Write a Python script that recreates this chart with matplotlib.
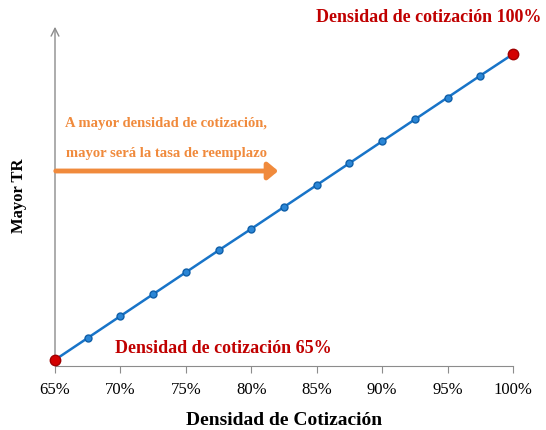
import matplotlib.pyplot as plt

# Datos
densidad = [65, 67.5, 70, 72.5, 75, 77.5, 80, 82.5, 85, 87.5, 90, 92.5, 95, 97.5, 100]
tr = [1.8, 8.2, 14.6, 21.0, 27.4, 33.8, 40.1, 46.5, 52.9, 59.3, 65.7, 72.1, 78.5, 84.9, 91.2]
ticks = [65, 70, 75, 80, 85, 90, 95, 100]
tick_labels = ["65%", "70%", "75%", "80%", "85%", "90%", "95%", "100%"]

plt.rcParams['font.family'] = ['Liberation Serif', 'DejaVu Serif']

rojo = "#C00000"
naranja = "#F08A3C"
azul = "#1874C8"
gris = "#8C8C8C"

fig = plt.figure(figsize=(5.46, 4.31), dpi=100)
ax = fig.add_axes([55/546, 64/431, 458/546, 342/431])

ax.plot(densidad, tr, color=azul, lw=1.8, marker="o", ms=5,
        mfc="#2A86D6", mec="#0F5FA8", zorder=3, clip_on=False)
ax.plot([densidad[0], densidad[-1]], [tr[0], tr[-1]], ls="none", marker="o",
        ms=7.5, mfc="#D40000", mec="#A00000", zorder=4, clip_on=False)

ax.set_xlim(65, 100)
ax.set_ylim(0, 100)
ax.set_xticks(ticks)
ax.set_xticklabels(tick_labels, fontsize=12)
ax.set_yticks([])
ax.tick_params(axis="x", direction="out", length=5, color=gris, pad=6)

for s in ["top", "right", "left"]:
    ax.spines[s].set_visible(False)
ax.spines["bottom"].set_color(gris)

# eje y con flecha
ax.annotate("", xy=(0, 1), xytext=(0, 0), xycoords="axes fraction",
            arrowprops=dict(arrowstyle="->", color=gris, lw=1, mutation_scale=14),
            annotation_clip=False)

ax.set_xlabel("Densidad de Cotización", fontsize=14, fontweight="bold", labelpad=10)
ax.set_ylabel("Mayor TR", fontsize=12, fontweight="bold", labelpad=20)

fig.text(429/546, 1 - 18/431, "Densidad de cotización 100%", color=rojo,
         fontsize=13, fontweight="bold", ha="center", va="center")
fig.text(223/546, 1 - 349/431, "Densidad de cotización 65%", color=rojo,
         fontsize=13, fontweight="bold", ha="center", va="center")

fig.text(166/546, 1 - 124/431, "A mayor densidad de cotización,", color=naranja,
         fontsize=10.5, fontweight="bold", ha="center", va="center")
fig.text(166/546, 1 - 153/431, "mayor será la tasa de reemplazo", color=naranja,
         fontsize=10.5, fontweight="bold", ha="center", va="center")

fig.patches.append(plt.matplotlib.patches.FancyArrowPatch(
    (53/546, 1 - 172/431), (281/546, 1 - 172/431), transform=fig.transFigure,
    arrowstyle="-|>,head_length=6,head_width=5", lw=3.5, color=naranja,
    mutation_scale=1))

fig.savefig("out.png", dpi=100)
